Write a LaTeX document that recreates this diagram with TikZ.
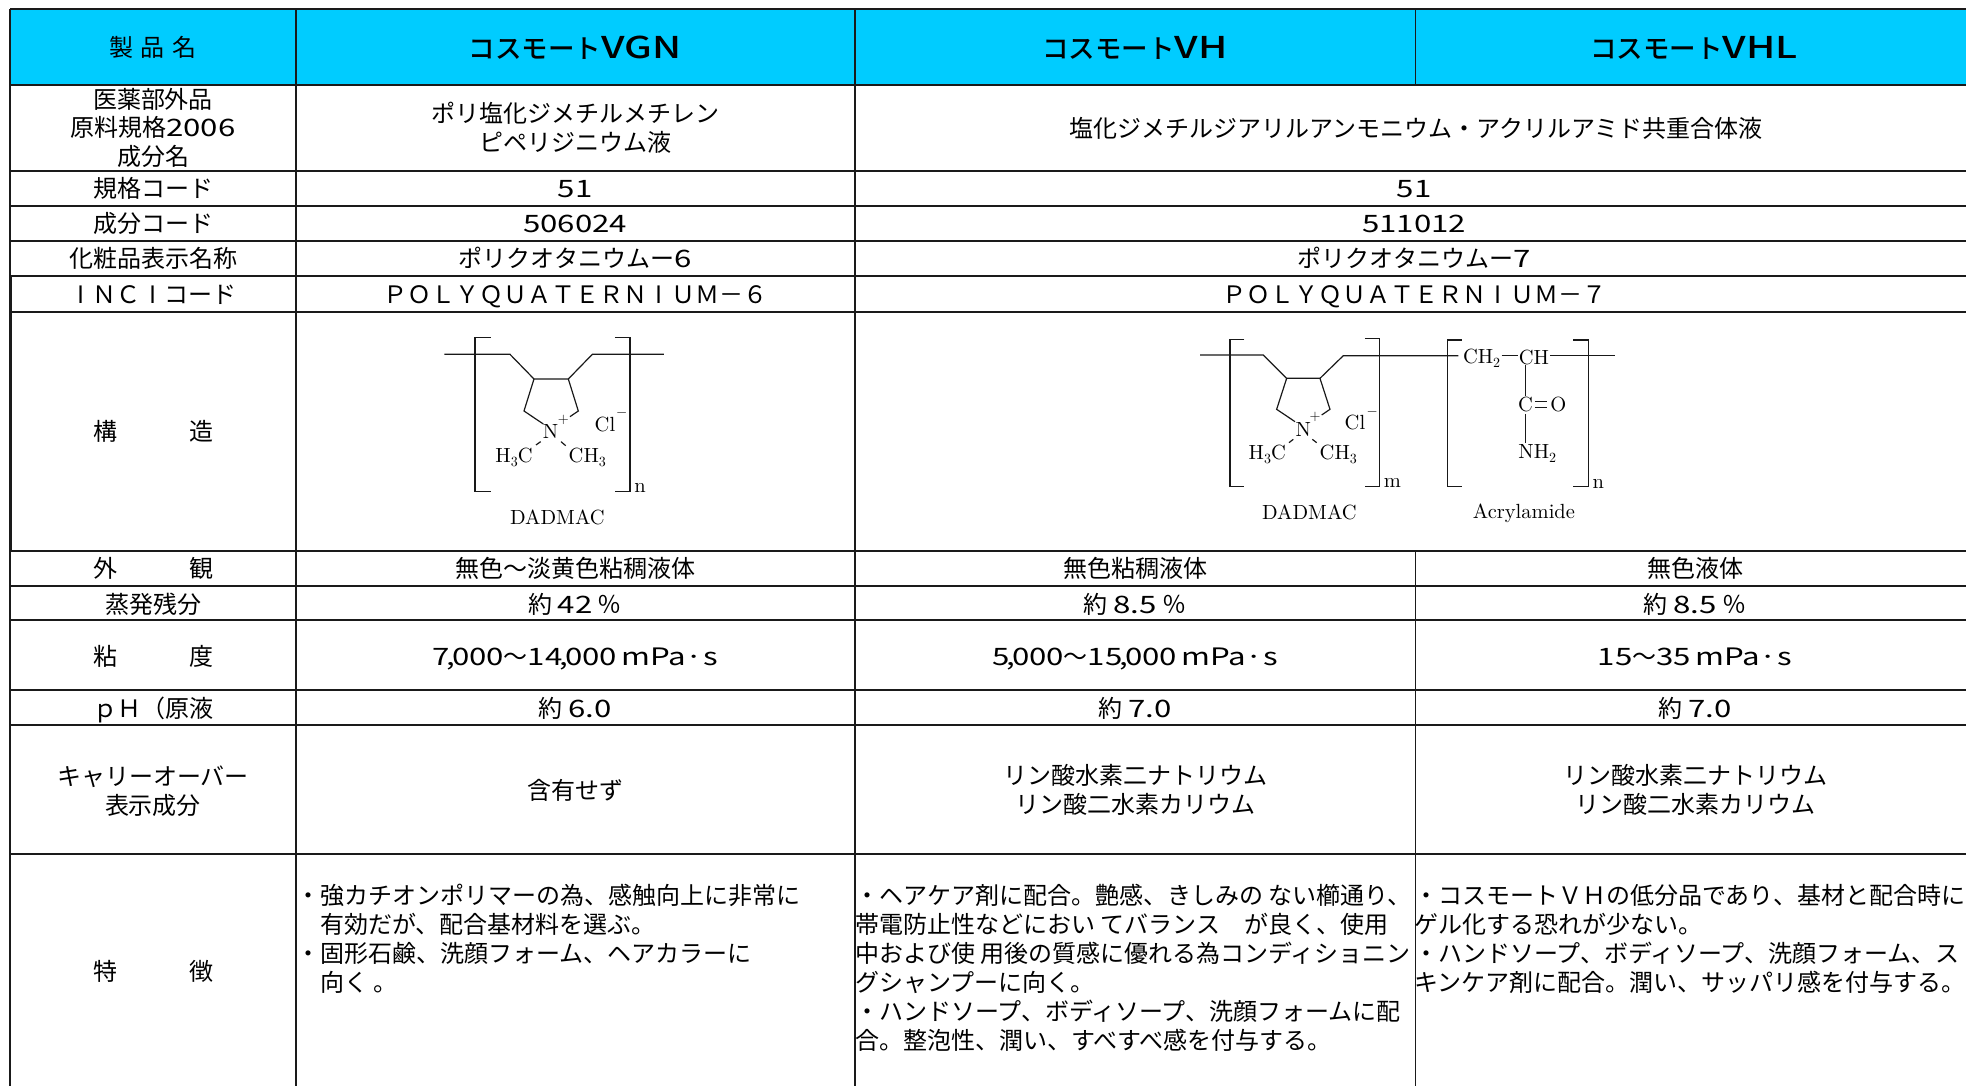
\documentclass[tikz,border=0pt]{standalone}
\usepackage{fontspec}
\newfontfamily\jp{Noto Sans CJK JP}
\newfontfamily\jw[FakeStretch=1.3]{Noto Sans CJK JP}
\newfontfamily\jh{Noto Sans CJK JP Medium}
\newfontfamily\jhl[FakeStretch=1.32]{Noto Sans CJK JP Medium}
\newfontfamily\cmr[Extension=.otf]{lmroman10-regular}
\definecolor{headblue}{HTML}{00CCFF}
\definecolor{gridink}{HTML}{1A1A1A}
\newcommand\Rr{\rule{0pt}{21pt}}
\newcommand\dg[1]{{\jw #1}}
\newcommand\cmm{\kern-3pt,\kern-3pt}
\newcommand\fI{\makebox[24pt]{\jp I}}
\newcommand\hl[1]{{\fontsize{30}{30}\selectfont\jhl #1}}
\newcommand\sbs[1]{\raisebox{-4pt}{\fontsize{14}{14}\selectfont #1}}
\tikzset{
  cell/.style={inner sep=0pt,text height=21pt,text depth=3pt,font=\fontsize{24}{29}\selectfont\jp,text=black},
  headcell/.style={inner sep=0pt,text height=24pt,text depth=3pt,font=\fontsize{26.5}{30}\selectfont\jh,text=black},
  multi/.style={inner sep=0pt,anchor=north,align=center,font=\fontsize{24}{29}\selectfont\jp,text=black},
  feat/.style={inner sep=0pt,anchor=north west,align=left,font=\fontsize{24}{29}\selectfont\jp,text=black},
  hrule/.style={draw=gridink,line width=1.5pt},
  vmain/.style={draw=gridink,line width=1.4pt},
  vthin/.style={draw=gridink,line width=1pt},
  bond/.style={draw=black!90,line width=1.2pt},
  chem/.style={inner sep=0pt,font=\fontsize{20.5}{24}\selectfont\cmr,text=black},
  chemsup/.style={inner sep=0pt,font=\fontsize{14}{16}\selectfont,text=black}
}
\begin{document}
\begin{tikzpicture}[x=1pt,y=-1pt]
\useasboundingbox (0,0) rectangle (1966,1086);
\fill[headblue] (10,9) rectangle (1966,85);
% horizontal rules
\foreach \yy in {9,85,171,206,241,276,312,551,586,620,690,725,854}
  \draw[hrule] (10,\yy) -- (1966,\yy);
% vertical rules
\draw[vmain] (10,9) -- (10,1086);
\draw[draw=gridink,line width=3pt] (10,276) -- (10,551);
\draw[vmain] (296,9) -- (296,1086);
\draw[vmain] (855,9) -- (855,1086);
\draw[vthin] (1415,9) -- (1415,85);
\draw[vthin] (1415,551) -- (1415,1086);
% header
\node[cell] (hname) at (153,48) {製\hspace{8pt}品\hspace{8pt}名};
\node[headcell] (hvgn) at (575,48) {コスモート\hl{VGN}};
\node[headcell] (hvh) at (1135,48) {コスモート\hl{VH}};
\node[headcell] (hvhl) at (1694,48) {コスモート\hl{VHL}};
% row labels
\node[multi] (lname) at (153,87.5) {\Rr 医薬部外品\\[-0.7pt]原料規格\dg{2006}\\[-0.7pt]成分名};
\node[cell] (lstd) at (153,188.5) {規格コード};
\node[cell] (lcomp) at (153,224) {成分コード};
\node[cell] (lcos) at (153,259) {化粧品表示名称};
\node[cell] (linci) at (153,294) {\fI ＮＣ\fI コード};
\node[cell] (lstruct) at (153,431) {構　　　造};
\node[cell] (lapp) at (153,568) {外　　　観};
\node[cell] (lres) at (153,604) {蒸発残分};
\node[cell] (lvis) at (153,656) {粘　　　度};
\node[cell] (lph) at (153,708) {ｐＨ（原液};
\node[multi] (lcarry) at (153,764) {\Rr キャリーオーバー\\表示成分};
\node[cell] (lfeat) at (153,971) {特　　　徴};
% column VGN
\node[multi] (aname) at (575,101) {\Rr ポリ塩化ジメチルメチレン\\ピペリジニウム液};
\node[cell] (astd) at (575,188.5) {\dg{51}};
\node[cell] (acomp) at (575,224) {\dg{506024}};
\node[cell] (acos) at (575,259) {ポリクオタニウムー\dg{6}};
\node[cell] (ainci) at (575,294) {ＰＯＬＹＱＵＡＴＥＲＮ\fI ＵＭ－６};
\node[cell] (aapp) at (575,568) {無色～淡黄色粘稠液体};
\node[cell] (ares) at (575,604) {約 \dg{42} ％};
\node[cell] (avis) at (575,656) {\dg{7\cmm 000}～\dg{14\cmm 000\kern-3pt{} mPa·s}};
\node[cell] (aph) at (575,708) {約 \dg{6.0}};
\node[cell] (acarry) at (575,790) {含有せず};
\node[feat] (afeat) at (296,883) {\Rr ・強カチオンポリマーの為、感触向上に非常に\\
　有効だが、配合基材料を選ぶ。\\
・固形石鹸、洗顔フォーム、ヘアカラーに\\
　向く 。};
% merged VH / VHL
\node[cell] (bname) at (1416,129) {塩化ジメチルジアリルアンモニウム・アクリルアミド共重合体液};
\node[cell] (bstd) at (1414,188.5) {\dg{51}};
\node[cell] (bcomp) at (1414,224) {\dg{511012}};
\node[cell] (bcos) at (1414,259) {ポリクオタニウムー\dg{7}};
\node[cell] (binci) at (1414,294) {ＰＯＬＹＱＵＡＴＥＲＮ\fI ＵＭ－７};
% column VH
\node[cell] (capp) at (1135,568) {無色粘稠液体};
\node[cell] (cres) at (1135,604) {約 \dg{8.5} ％};
\node[cell] (cvis) at (1135,656) {\dg{5\cmm 000}～\dg{15\cmm 000\kern-3pt{} mPa·s}};
\node[cell] (cph) at (1135,708) {約 \dg{7.0}};
\node[multi] (ccarry) at (1135,763) {\Rr リン酸水素二ナトリウム\\リン酸二水素カリウム};
\node[feat] (cfeat) at (855,883) {\Rr ・ヘアケア剤に配合。艶感、きしみの ない櫛通り、\\
帯電防止性などにおい てバランス　が良く、使用\\
中および使 用後の質感に優れる為コンディショニン\\
グシャンプーに向く。\\
・ハンドソープ、ボディソープ、洗顔フォームに配\\
合。整泡性、潤い、すべすべ感を付与する。};
% column VHL
\node[cell] (dapp) at (1695,568) {無色液体};
\node[cell] (dres) at (1695,604) {約 \dg{8.5} ％};
\node[cell] (dvis) at (1695,656) {\dg{15}～\dg{35\kern-3pt{} mPa·s}};
\node[cell] (dph) at (1695,708) {約 \dg{7.0}};
\node[multi] (dcarry) at (1695,763) {\Rr リン酸水素二ナトリウム\\リン酸二水素カリウム};
\node[feat] (dfeat) at (1414,883) {\Rr ・コスモートＶＨの低分品であり、基材と配合時に\\
ゲル化する恐れが少ない。\\
・ハンドソープ、ボディソープ、洗顔フォーム、ス\\
キンケア剤に配合。潤い、サッパリ感を付与する。};
% structure 1
\begin{scope}[shift={(400pt,-310pt)},x=0.3333pt,y=-0.3333pt]
\draw[bond] (133,133) -- (330,133) -- (402,207) -- (505,207) -- (577,133) -- (792,133);
\draw[bond] (402,207) -- (372,303) -- (430,342);
\draw[bond] (505,207) -- (535,303) -- (510,320);
\draw[bond] (408,405) -- (422,395);
\draw[bond] (483,395) -- (497,407);
\draw[bond] (272,83) -- (225,83) -- (225,545) -- (272,545);
\draw[bond] (645,83) -- (690,83) -- (690,545) -- (645,545);
\node[chem] (sn1) at (452,365) {N};
\node[chemsup] (sp1) at (490,330) {$+$};
\node[chem] (scl1) at (615,343) {Cl};
\node[chemsup] (sm1) at (665,310) {$-$};
\node[chem] (sh1) at (342,442) {H\sbs{3}C};
\node[chem] (sc1) at (562,442) {CH\sbs{3}};
\node[chem] (sidx1) at (720,533) {n};
\node[chem] (slab1) at (472,622) {DADMAC};
\end{scope}
% structure 2
\begin{scope}[shift={(1180pt,-310pt)},x=0.3333pt,y=-0.3333pt]
\draw[bond] (60,135) -- (250,135) -- (320,205) -- (420,205) -- (490,137) -- (835,137);
\draw[bond] (320,205) -- (290,298) -- (345,335);
\draw[bond] (420,205) -- (450,298) -- (425,315);
\draw[bond] (327,398) -- (340,388);
\draw[bond] (397,388) -- (410,398);
\draw[bond] (965,137) -- (1015,137);
\draw[bond] (1110,137) -- (1305,137);
\draw[bond] (1037,165) -- (1037,258);
\draw[bond] (1037,312) -- (1037,398);
\draw[bond] (1065,275) -- (1100,275);
\draw[bond] (1065,293) -- (1100,293);
\draw[bond] (193,88) -- (150,88) -- (150,530) -- (193,530);
\draw[bond] (555,85) -- (598,85) -- (598,530) -- (555,530);
\draw[bond] (845,90) -- (802,90) -- (802,530) -- (845,530);
\draw[bond] (1180,90) -- (1225,90) -- (1225,530) -- (1180,530);
\node[chem] (tn) at (370,360) {N};
\node[chemsup] (tp) at (405,322) {$+$};
\node[chem] (tcl) at (525,337) {Cl};
\node[chemsup] (tm) at (577,305) {$-$};
\node[chem] (th) at (262,432) {H\sbs{3}C};
\node[chem] (tc) at (475,432) {CH\sbs{3}};
\node[chem] (tm2) at (637,520) {m};
\node[chem] (tch2) at (905,146) {CH\sbs{2}};
\node[chem] (tch) at (1062,143) {CH};
\node[chem] (tco) at (1037,285) {C};
\node[chem] (to) at (1135,285) {O};
\node[chem] (tnh) at (1072,432) {NH\sbs{2}};
\node[chem] (tn2) at (1255,523) {n};
\node[chem] (tlab1) at (388,608) {DADMAC};
\node[chem] (tlab2) at (1032,610) {Acrylamide};
\end{scope}
\end{tikzpicture}
\end{document}
